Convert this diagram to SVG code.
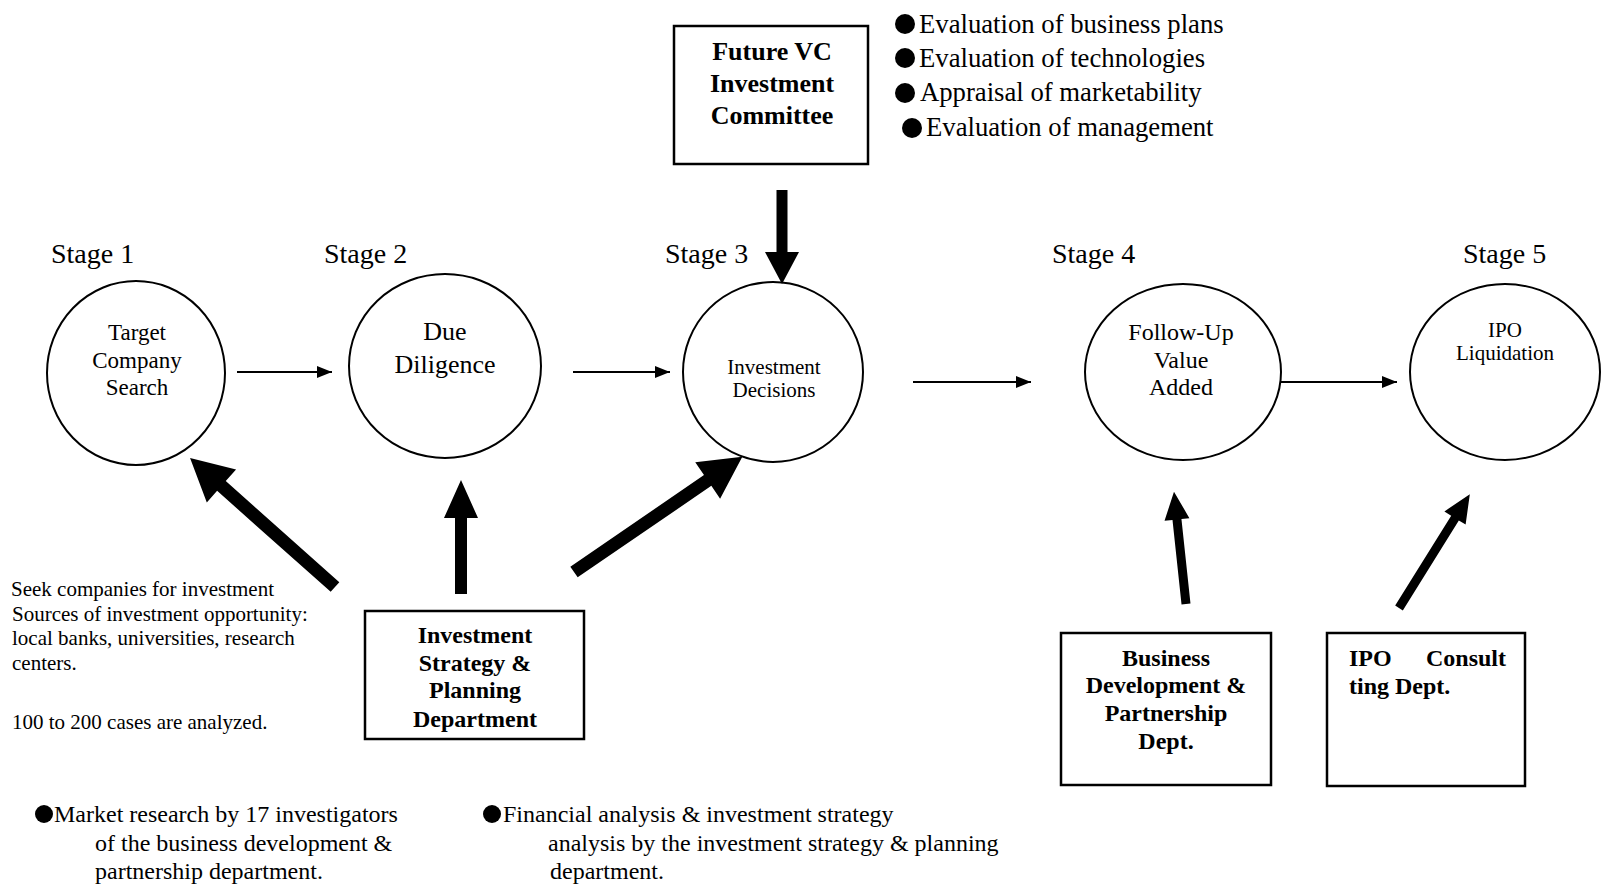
<svg xmlns="http://www.w3.org/2000/svg" width="1601" height="888" viewBox="0 0 1601 888">
  <defs>
    <style>
      text { font-family: "Liberation Serif", "Times New Roman", serif; fill: #000; }
      .stage { font-size: 28px; }
      .node { fill: #fff; stroke: #000; stroke-width: 2; }
      .box { fill: #fff; stroke: #000; stroke-width: 2.5; }
      .bold { font-weight: bold; }
      .mid { text-anchor: middle; }
      .flow { stroke: #000; stroke-width: 2.2; fill: none; marker-end: url(#head); }
      .thick { fill: #000; stroke: none; }
      .dot { fill: #000; }
    </style>
    <marker id="head" viewBox="0 0 15 12" refX="15" refY="6" markerWidth="15" markerHeight="12" markerUnits="userSpaceOnUse" orient="auto">
      <path d="M0,0 L15,6 L0,12 Z" fill="#000"/>
    </marker>
  </defs>
  <rect width="1601" height="888" fill="#fff"/>

  <!-- stage headings -->
  <g id="stage-labels">
    <text class="stage" x="51" y="263">Stage 1</text>
    <text class="stage" x="324" y="263">Stage 2</text>
    <text class="stage" x="665" y="263">Stage 3</text>
    <text class="stage" x="1052" y="263">Stage 4</text>
    <text class="stage" x="1463" y="263">Stage 5</text>
  </g>

  <!-- stage nodes -->
  <g id="stage1">
    <ellipse class="node" cx="136" cy="373" rx="89" ry="92"/>
    <text class="mid" x="137" y="340" font-size="23">Target</text>
    <text class="mid" x="137" y="368" font-size="23">Company</text>
    <text class="mid" x="137" y="395" font-size="23">Search</text>
  </g>
  <g id="stage2">
    <ellipse class="node" cx="445" cy="366" rx="96" ry="92"/>
    <text class="mid" x="445" y="340" font-size="26">Due</text>
    <text class="mid" x="445" y="373" font-size="26">Diligence</text>
  </g>
  <g id="stage3">
    <ellipse class="node" cx="773" cy="372" rx="90" ry="90"/>
    <text class="mid" x="774" y="374" font-size="21">Investment</text>
    <text class="mid" x="774" y="397" font-size="21">Decisions</text>
  </g>
  <g id="stage4">
    <ellipse class="node" cx="1183" cy="372" rx="98" ry="88"/>
    <text class="mid" x="1181" y="340" font-size="24">Follow-Up</text>
    <text class="mid" x="1181" y="368" font-size="24">Value</text>
    <text class="mid" x="1181" y="395" font-size="24">Added</text>
  </g>
  <g id="stage5">
    <ellipse class="node" cx="1505" cy="372" rx="95" ry="88"/>
    <text class="mid" x="1505" y="337" font-size="21">IPO</text>
    <text class="mid" x="1505" y="360" font-size="21">Liquidation</text>
  </g>

  <!-- departments -->
  <g id="committee">
    <rect class="box" x="674" y="26" width="194" height="138"/>
    <text class="mid bold" x="772" y="60" font-size="26">Future VC</text>
    <text class="mid bold" x="772" y="92" font-size="26">Investment</text>
    <text class="mid bold" x="772" y="124" font-size="26">Committee</text>
  </g>
  <g id="strategy-dept">
    <rect class="box" x="365" y="611" width="219" height="128"/>
    <text class="mid bold" x="475" y="643" font-size="24">Investment</text>
    <text class="mid bold" x="475" y="671" font-size="24">Strategy &amp;</text>
    <text class="mid bold" x="475" y="698" font-size="24">Planning</text>
    <text class="mid bold" x="475" y="727" font-size="24">Department</text>
  </g>
  <g id="bizdev-dept">
    <rect class="box" x="1061" y="633" width="210" height="152"/>
    <text class="mid bold" x="1166" y="666" font-size="24">Business</text>
    <text class="mid bold" x="1166" y="693" font-size="24">Development &amp;</text>
    <text class="mid bold" x="1166" y="721" font-size="24">Partnership</text>
    <text class="mid bold" x="1166" y="749" font-size="24">Dept.</text>
  </g>
  <g id="ipo-dept">
    <rect class="box" x="1327" y="633" width="198" height="153"/>
    <text class="bold" x="1349" y="666" font-size="24">IPO</text>
    <text class="bold" x="1506" y="666" font-size="24" text-anchor="end">Consult</text>
    <text class="bold" x="1349" y="694" font-size="24">ting Dept.</text>
  </g>

  <!-- committee criteria -->
  <g id="criteria">
    <circle class="dot" cx="905" cy="24" r="10"/>
    <circle class="dot" cx="905" cy="58" r="10"/>
    <circle class="dot" cx="905" cy="93" r="10"/>
    <circle class="dot" cx="912" cy="128" r="10"/>
    <text x="919" y="33" font-size="26.7">Evaluation of business plans</text>
    <text x="919" y="67" font-size="26.7">Evaluation of technologies</text>
    <text x="920" y="101" font-size="26.7">Appraisal of marketability</text>
    <text x="926" y="136" font-size="26.7">Evaluation of management</text>
  </g>

  <!-- search notes -->
  <g id="search-notes" font-size="21">
    <text x="11" y="596">Seek companies for investment</text>
    <text x="12" y="621">Sources of investment opportunity:</text>
    <text x="12" y="645">local banks, universities, research</text>
    <text x="12" y="670">centers.</text>
    <text x="12" y="729">100 to 200 cases are analyzed.</text>
  </g>

  <!-- footnotes -->
  <g id="footnotes" font-size="24">
    <circle class="dot" cx="44" cy="814" r="9"/>
    <text x="54" y="822">Market research by 17 investigators</text>
    <text x="95" y="851">of the business development &amp;</text>
    <text x="95" y="879">partnership department.</text>
    <circle class="dot" cx="492" cy="814" r="9"/>
    <text x="503" y="822">Financial analysis &amp; investment strategy</text>
    <text x="548" y="851">analysis by the investment strategy &amp; planning</text>
    <text x="550" y="879">department.</text>
  </g>

  <!-- connectors -->
  <g id="connectors">
    <line class="flow" x1="237" y1="372" x2="332" y2="372"/>
    <line class="flow" x1="573" y1="372" x2="670" y2="372"/>
    <line class="flow" x1="913" y1="382" x2="1031" y2="382"/>
    <line class="flow" x1="1281" y1="382" x2="1397" y2="382"/>

    <path class="thick" transform="translate(782,190) rotate(90)" d="M0,-5.5 L62,-5.5 L62,-17 L94,0 L62,17 L62,5.5 L0,5.5 Z"/>
    <path class="thick" transform="translate(335,587) rotate(-138.34)" d="M0,-6.5 L152,-6.5 L152,-22 L194,0 L152,22 L152,6.5 L0,6.5 Z"/>
    <path class="thick" transform="translate(461,594) rotate(-90)" d="M0,-6 L76,-6 L76,-17 L114,0 L76,17 L76,6 L0,6 Z"/>
    <path class="thick" transform="translate(574,572) rotate(-34.4)" d="M0,-6.5 L162,-6.5 L162,-22 L204,0 L162,22 L162,6.5 L0,6.5 Z"/>
    <path class="thick" transform="translate(1186,604) rotate(-96.1)" d="M0,-4.5 L85,-4.5 L85,-12.5 L113,0 L85,12.5 L85,4.5 L0,4.5 Z"/>
    <path class="thick" transform="translate(1399,608) rotate(-58.1)" d="M0,-4.5 L106,-4.5 L106,-12.5 L134,0 L106,12.5 L106,4.5 L0,4.5 Z"/>
  </g>
</svg>
